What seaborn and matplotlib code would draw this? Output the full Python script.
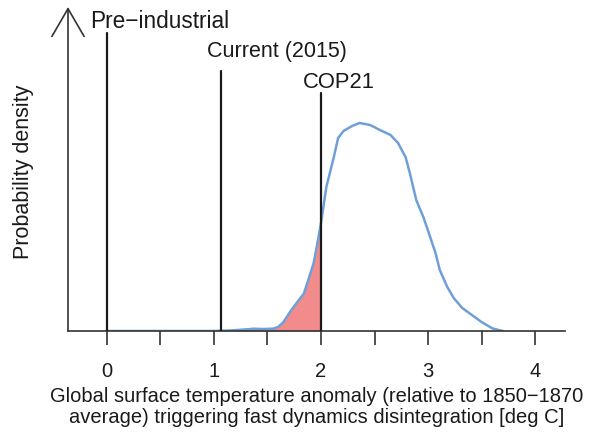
import numpy as np
import pandas as pd
import matplotlib
matplotlib.use("Agg")
import matplotlib.pyplot as plt
import seaborn as sns

# Data
temp = [0.00, 1.00, 1.18, 1.31, 1.37, 1.46, 1.55, 1.60, 1.65, 1.71, 1.79, 1.84, 1.88,
        1.93, 1.96, 2.00, 2.05, 2.12, 2.16, 2.21, 2.29, 2.36, 2.46, 2.55, 2.65, 2.72,
        2.79, 2.83, 2.89, 2.96, 3.02, 3.07, 3.11, 3.18, 3.24, 3.32, 3.41, 3.50, 3.60,
        3.67, 3.70]
density = [0.0, 0.0, 0.0035, 0.0085, 0.0115, 0.010, 0.0115, 0.020, 0.045, 0.095, 0.153,
           0.187, 0.253, 0.337, 0.420, 0.540, 0.720, 0.870, 0.965, 1.000, 1.025, 1.040,
           1.030, 1.005, 0.980, 0.940, 0.870, 0.790, 0.655, 0.565, 0.470, 0.390, 0.305,
           0.220, 0.165, 0.115, 0.080, 0.045, 0.0135, 0.0035, 0.0]
marker_names = ["Pre\u2212industrial", "Current (2015)", "COP21"]
marker_x = [0.0, 1.07, 2.0]
marker_top = [1.49, 1.30, 1.19]
threshold = 2.0
xticks = [0, 1, 2, 3, 4]
xminor = [0.5, 1.5, 2.5, 3.5]

# label placement (layout)
label_x = [-0.159, 0.935, 1.835]
label_y = [1.513, 1.372, 1.214]

sns.set_theme(style="white")
plt.rcParams['font.family'] = ['Liberation Sans', 'DejaVu Sans']

df = pd.DataFrame({"temp": temp, "density": density})

fig = plt.figure(figsize=(5.97, 4.36), dpi=100)
ax = fig.add_axes([68/597, 1 - 331/436, (565-68)/597, (331-7)/436])

sub = df[df["temp"] <= threshold]
ax.fill_between(sub["temp"], 0, sub["density"], color="#f28b8b", linewidth=0, zorder=1)

sns.lineplot(data=df, x="temp", y="density", ax=ax, color="#6f9fd8", linewidth=1.8, zorder=2)
for ln in ax.lines:
    ln.set_solid_joinstyle("round")
    ln.set_solid_capstyle("round")

for name, xv, top, lx, ly, fs in zip(marker_names, marker_x, marker_top, label_x, label_y,
                                     [16.3, 15.5, 15.8]):
    ax.plot([xv, xv], [0, top], color="#1a1a1a", linewidth=1.6, zorder=3)
    ax.text(lx, ly, name, ha="left", va="baseline", fontsize=fs, color="#1a1a1a")

ax.set_xlim(-0.364, 4.28)
ax.set_ylim(0, 1.62)

for s in ["top", "right", "left"]:
    ax.spines[s].set_visible(False)
ax.spines["bottom"].set_color("#333333")
ax.spines["bottom"].set_linewidth(1.2)

ax.set_xticks(xticks)
ax.set_xticks(xminor, minor=True)
ax.set_xticklabels([str(t) for t in xticks])
ax.tick_params(axis="x", which="both", direction="out", length=10, width=1.2, color="#333333",
               bottom=True, pad=12, labelsize=14.5, labelcolor="#1a1a1a")
ax.set_yticks([])

ax.annotate("", xy=(-0.364, 1.62), xytext=(-0.364, 0), xycoords="data",
            arrowprops=dict(arrowstyle="->,head_length=1.0,head_width=0.58", color="#333333",
                            lw=1.2, mutation_scale=20, shrinkA=0, shrinkB=0),
            annotation_clip=False)

ax.set_xlabel("Global surface temperature anomaly (relative to 1850\u22121870\naverage) triggering fast dynamics disintegration [deg C]",
              fontsize=14.5, color="#1a1a1a", labelpad=5, linespacing=1.1)
ax.set_ylabel("Probability density", fontsize=15.5, color="#1a1a1a")
ax.yaxis.set_label_coords(-0.068, 0.49)

fig.savefig("out.png", dpi=100)
